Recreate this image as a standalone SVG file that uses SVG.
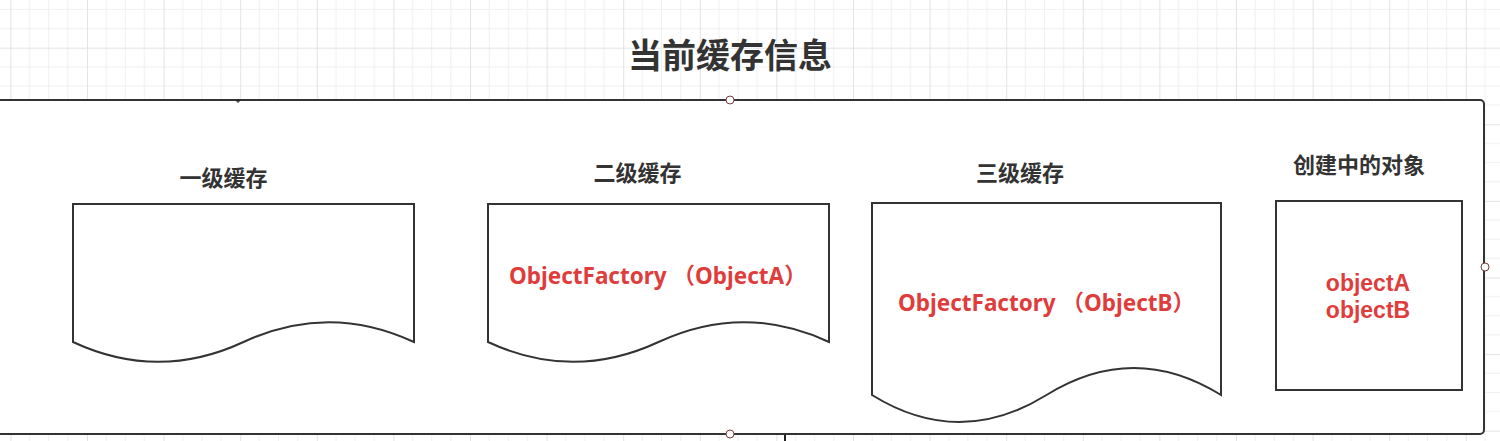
<svg xmlns="http://www.w3.org/2000/svg" width="1500" height="441" viewBox="0 0 1500 441">
  <style>
    .shape { fill: #ffffff; stroke: #333333; stroke-width: 2; }
    .label { font-family: "Noto Sans CJK SC", "Noto Sans", sans-serif; font-weight: bold; font-size: 22px; fill: #333333; text-anchor: middle; dominant-baseline: central; }
    .title { font-family: "Noto Sans CJK SC", "Noto Sans", sans-serif; font-weight: bold; font-size: 34px; fill: #333333; text-anchor: middle; dominant-baseline: central; }
    .red { font-family: "Noto Sans", "Noto Sans CJK SC", sans-serif; font-weight: bold; font-size: 22.5px; fill: #df3c3c; }
    .red2 { font-family: "Liberation Sans", Arial, sans-serif; font-weight: bold; font-size: 23px; fill: #df3c3c; text-anchor: middle; }
    .handle { fill: #ffffff; stroke: #7a3b3b; stroke-width: 1; }
  </style>
  <defs>
    <pattern id="grid" patternUnits="userSpaceOnUse" x="10.4" y="-28.9" width="76.6" height="76.6">
      <path d="M19.15,0 V76.6 M38.3,0 V76.6 M57.45,0 V76.6 M0,19.15 H76.6 M0,38.3 H76.6 M0,57.45 H76.6" stroke="#f0f0f0" stroke-width="1" fill="none"/>
      <path d="M0.5,0 V76.6 M0,0.5 H76.6" stroke="#e3e3e3" stroke-width="1" fill="none"/>
    </pattern>
  </defs>
  <rect x="0" y="0" width="1500" height="441" fill="#ffffff"/>
  <rect x="0" y="0" width="1500" height="441" fill="url(#grid)"/>

  <g id="title">
    <text class="title" x="730" y="53.5">当前缓存信息</text>
  </g>

  <g id="container">
    <rect class="shape" x="-10" y="100" width="1494" height="334" rx="4" ry="4" stroke-width="2.5"/>
    <circle class="handle" cx="730" cy="100" r="4"/>
    <circle class="handle" cx="730" cy="434" r="4"/>
    <circle class="handle" cx="1485" cy="267" r="4"/>
  </g>

  <g id="connectors">
    <line x1="785" y1="435" x2="785" y2="441" stroke="#222222" stroke-width="2"/>
    <path d="M236,101 H240 M238,99 V103" stroke="#222222" stroke-width="1"/>
  </g>

  <g id="level1">
    <text class="label" x="223.5" y="176">一级缓存</text>
    <path class="shape" d="M73,204 H414 V342 Q328.75,302.4 243.5,342 Q158.25,381.6 73,342 Z"/>
  </g>

  <g id="level2">
    <text class="label" x="637.5" y="171">二级缓存</text>
    <path class="shape" d="M488,204 H829 V342 Q743.75,302.4 658.5,342 Q573.25,381.6 488,342 Z"/>
    <text class="red" x="509" y="284">ObjectFactory （ObjectA）</text>
  </g>

  <g id="level3">
    <text class="label" x="1020" y="171">三级缓存</text>
    <path class="shape" d="M872,203 H1221 V395 Q1133.75,341 1046.5,395 Q959.25,449 872,395 Z"/>
    <text class="red" x="898" y="311">ObjectFactory （ObjectB）</text>
  </g>

  <g id="creating">
    <text class="label" x="1359" y="163">创建中的对象</text>
    <rect class="shape" x="1276" y="201" width="186" height="189"/>
    <text class="red2"><tspan x="1368" y="291">objectA</tspan><tspan x="1368" y="318">objectB</tspan></text>
  </g>
</svg>
